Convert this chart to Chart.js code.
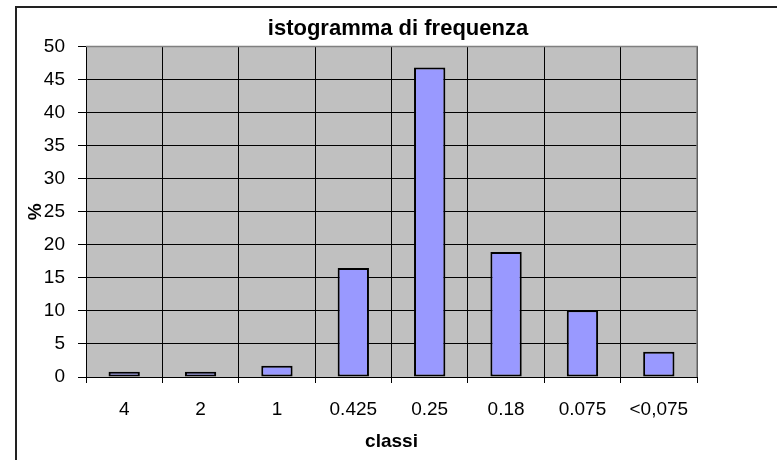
<!DOCTYPE html>
<html>
<head>
<meta charset="utf-8">
<script src="https://cdn.jsdelivr.net/npm/chart.js@4"></script>
<style>
    html, body { margin: 0; padding: 0; background: #fff; }
    #wrap { width: 777px; height: 460px; }
</style>
</head>
<body>
<div id="wrap"><canvas id="histChart" width="777" height="460"></canvas></div>
<script>
// Data
const classLabels = ['4', '2', '1', '0.425', '0.25', '0.18', '0.075', '<0,075'];
const percentValues = [0.8, 0.8, 1.7, 16.5, 46.8, 18.9, 10.1, 3.8];
const yTicks = [0, 5, 10, 15, 20, 25, 30, 35, 40, 45, 50];

const FONT = '"Liberation Sans", Arial, sans-serif';

// Grey plot area, outer frame and plot border, Excel style
const excelLook = {
    id: 'excelLook',
    beforeDraw(chart) {
        const { ctx, chartArea: a } = chart;
        ctx.save();
        ctx.fillStyle = '#C0C0C0';
        ctx.fillRect(a.left, a.top, a.right - a.left, a.bottom - a.top);
        ctx.strokeStyle = '#222';
        ctx.lineWidth = 2;
        ctx.beginPath();
        ctx.moveTo(16, 460);
        ctx.lineTo(16, 7);
        ctx.lineTo(777, 7);
        ctx.stroke();
        ctx.restore();
    },
    afterDatasetsDraw(chart) {
        const { ctx, chartArea: a } = chart;
        ctx.save();
        ctx.strokeStyle = '#808080';
        ctx.lineWidth = 1.5;
        ctx.beginPath();
        ctx.moveTo(a.left, a.top);
        ctx.lineTo(a.right, a.top);
        ctx.lineTo(a.right, a.bottom);
        ctx.stroke();
        ctx.restore();
    }
};

new Chart(document.getElementById('histChart'), {
    type: 'bar',
    data: {
        labels: classLabels,
        datasets: [{
            data: percentValues,
            backgroundColor: '#9999FF',
            borderColor: '#000',
            borderWidth: 2,
            borderSkipped: false,
            barPercentage: 0.41,
            categoryPercentage: 1.0
        }]
    },
    options: {
        responsive: false,
        animation: false,
        layout: { padding: { left: 19, right: 0, top: 0, bottom: 0 } },
        plugins: {
            legend: { display: false },
            tooltip: { enabled: false },
            title: {
                display: true,
                text: 'istogramma di frequenza',
                color: '#000',
                font: { family: FONT, size: 22, weight: 'bold' },
                padding: { top: 16, bottom: 4 }
            }
        },
        scales: {
            x: {
                grid: { color: '#000', lineWidth: 1, offset: true, tickLength: 6, tickColor: '#000' },
                border: { color: '#000', width: 1 },
                ticks: { color: '#000', font: { family: FONT, size: 19 }, padding: 15, maxRotation: 0 },
                title: {
                    display: true,
                    text: 'classi',
                    color: '#000',
                    font: { family: FONT, size: 19, weight: 'bold' },
                    padding: { top: 4, bottom: 7 }
                },
                afterFit(scale) { scale.height = 83; }
            },
            y: {
                min: 0,
                max: 50,
                afterBuildTicks(scale) { scale.ticks = yTicks.map(v => ({ value: v })); },
                grid: { color: '#000', lineWidth: 1, tickLength: 8, tickColor: '#000' },
                border: { color: '#000', width: 1 },
                ticks: { color: '#000', font: { family: FONT, size: 19 }, padding: 13 },
                title: {
                    display: true,
                    text: '%',
                    color: '#000',
                    font: { family: FONT, size: 19, weight: 'bold' },
                    padding: { top: 5, bottom: 0 }
                },
                afterFit(scale) { scale.width = 67; }
            },
            // empty right margin, keeps the title centred like the original
            yRight: {
                position: 'right',
                min: 0,
                max: 50,
                grid: { display: false },
                border: { display: false },
                ticks: { display: false },
                afterFit(scale) { scale.width = 80; }
            }
        }
    },
    plugins: [excelLook]
});
</script>
</body>
</html>
